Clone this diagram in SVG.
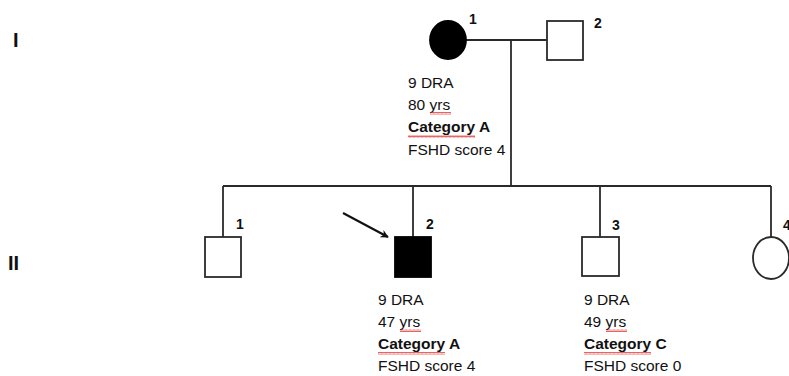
<svg xmlns="http://www.w3.org/2000/svg" width="789" height="376" viewBox="0 0 789 376">
  <defs>
    <style>
      .line { stroke: #2a2a2a; stroke-width: 1.8; fill: none; }
      .open { fill: #ffffff; stroke: #2a2a2a; stroke-width: 1.8; }
      .affected { fill: #000000; stroke: #000000; stroke-width: 1.8; }
      .gen { font-family: "Liberation Sans", Arial, sans-serif; font-weight: bold; font-size: 20px; fill: #111; }
      .num { font-family: "Liberation Sans", Arial, sans-serif; font-weight: bold; font-size: 14px; fill: #111; }
      .info { font-family: "Liberation Sans", Arial, sans-serif; font-size: 15.5px; fill: #111; }
      .info .b { font-weight: bold; }
      .squiggle { fill: url(#wave); }
    </style>
    <!-- red wavy spell-check underline -->
    <pattern id="wave" width="4" height="3" patternUnits="userSpaceOnUse">
      <path d="M0 2.5 L1 0.5 L2 2.5 L3 0.5 L4 2.5" stroke="#e02020" stroke-width="0.7" fill="none"/>
    </pattern>
    <marker id="arrowhead" viewBox="0 0 10 10" refX="9" refY="5" markerWidth="8" markerHeight="8" orient="auto" markerUnits="userSpaceOnUse">
      <path d="M0 0 L10 5 L0 10 L3 5 Z" fill="#111"/>
    </marker>
  </defs>

  <!-- generation labels -->
  <text class="gen" x="13" y="47">I</text>
  <text class="gen" x="8" y="270">II</text>

  <!-- connectors -->
  <g id="connectors">
    <line class="line" x1="466" y1="40" x2="547" y2="40"/>
    <line class="line" x1="511" y1="40" x2="511" y2="186"/>
    <line class="line" x1="223" y1="186" x2="771" y2="186"/>
    <line class="line" x1="223" y1="186" x2="223" y2="237"/>
    <line class="line" x1="413" y1="186" x2="413" y2="237"/>
    <line class="line" x1="600" y1="186" x2="600" y2="237"/>
    <line class="line" x1="771" y1="186" x2="771" y2="237"/>
    <!-- proband arrow -->
    <line x1="343" y1="213" x2="388" y2="237" stroke="#111" stroke-width="2.2" marker-end="url(#arrowhead)"/>
  </g>

  <!-- generation I -->
  <g id="I-1">
    <ellipse class="affected" cx="448" cy="40" rx="18" ry="19"/>
    <text class="num" x="469" y="24">1</text>
    <text class="info" x="408" y="88">9 DRA</text>
    <text class="info" x="408" y="110">80 yrs</text>
    <rect class="squiggle" x="430" y="112" width="21" height="3"/>
    <text class="info" x="408" y="132"><tspan class="b">Category A</tspan></text>
    <rect class="squiggle" x="408" y="135" width="67" height="3"/>
    <text class="info" x="408" y="155">FSHD score 4</text>
  </g>

  <g id="I-2">
    <rect class="open" x="547" y="21" width="36" height="39"/>
    <text class="num" x="594" y="28">2</text>
  </g>

  <!-- generation II -->
  <g id="II-1">
    <rect class="open" x="205" y="237" width="36" height="40"/>
    <text class="num" x="236" y="229">1</text>
  </g>

  <g id="II-2">
    <rect class="affected" x="395" y="237" width="36" height="40"/>
    <text class="num" x="426" y="229">2</text>
    <text class="info" x="378" y="305">9 DRA</text>
    <text class="info" x="378" y="327">47 yrs</text>
    <rect class="squiggle" x="400" y="329" width="21" height="3"/>
    <text class="info" x="378" y="349"><tspan class="b">Category A</tspan></text>
    <rect class="squiggle" x="378" y="352" width="67" height="3"/>
    <text class="info" x="378" y="371">FSHD score 4</text>
  </g>

  <g id="II-3">
    <rect class="open" x="582" y="237" width="37" height="39"/>
    <text class="num" x="612" y="230">3</text>
    <text class="info" x="584" y="305">9 DRA</text>
    <text class="info" x="584" y="327">49 yrs</text>
    <rect class="squiggle" x="606" y="329" width="21" height="3"/>
    <text class="info" x="584" y="349"><tspan class="b">Category C</tspan></text>
    <rect class="squiggle" x="584" y="352" width="67" height="3"/>
    <text class="info" x="584" y="371">FSHD score 0</text>
  </g>

  <g id="II-4">
    <ellipse class="open" cx="771" cy="258" rx="18" ry="21"/>
    <text class="num" x="783" y="230">4</text>
  </g>
</svg>
